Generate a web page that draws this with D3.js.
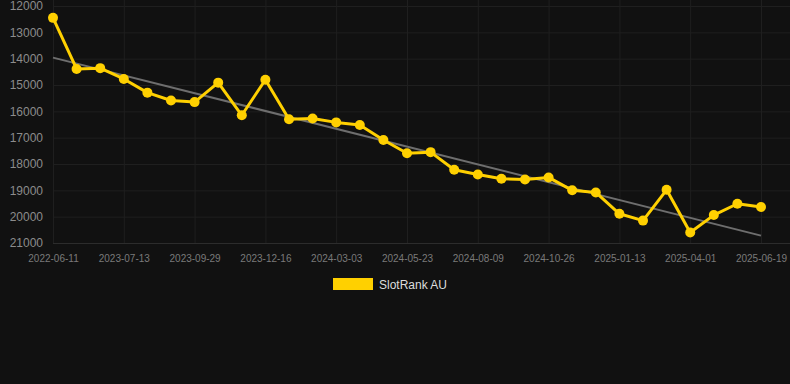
<html>
<meta charset="utf-8">
<script src="https://d3js.org/d3.v7.min.js"></script>
<style>
  body { margin: 0; background: #111111; }
  svg { display: block; }
</style>
<body>
<script>
// category dates (only every third one is labelled)
const dates = [
  "2022-06-11", "2023-05-22", "2023-06-17", "2023-07-13", "2023-08-08", "2023-09-03",
  "2023-09-29", "2023-10-25", "2023-11-20", "2023-12-16", "2024-01-11", "2024-02-06",
  "2024-03-03", "2024-03-30", "2024-04-26", "2024-05-23", "2024-06-18", "2024-07-14",
  "2024-08-09", "2024-09-04", "2024-09-30", "2024-10-26", "2024-11-21", "2024-12-18",
  "2025-01-13", "2025-02-08", "2025-03-06", "2025-04-01", "2025-04-27", "2025-05-24",
  "2025-06-19"
];
const ranks = [
  12450, 14390, 14360, 14770, 15290, 15590, 15650, 14910, 16150, 14800, 16300,
  16270, 16420, 16520, 17090, 17590, 17550, 18220, 18400, 18560, 18590, 18510,
  19000, 19080, 19890, 20150, 18980, 20600, 19940, 19510, 19630
];
const trend = [13960, 20720]; // start / end of the trend line
const yTicks = [12000, 13000, 14000, 15000, 16000, 17000, 18000, 19000, 20000, 21000];
const seriesName = "SlotRank AU";

const W = 790, H = 384;
const plotL = 53, plotR = 761, plotT = 6, plotB = 243;

const svg = d3.select('body').append('svg')
  .attr('width', W).attr('height', H);

const x = d3.scalePoint().domain(dates).range([plotL, plotR]);
const y = d3.scaleLinear().domain([12000, 21000]).range([plotT, plotB]);

const labelled = dates.filter((d, i) => i % 3 === 0);

// grid
svg.append('g').selectAll('line').data(yTicks).enter().append('line')
  .attr('x1', plotL).attr('x2', W)
  .attr('y1', d => y(d) + 0.5).attr('y2', d => y(d) + 0.5)
  .attr('stroke', d => d === 21000 ? '#2c2c2c' : '#1f1f1f').attr('stroke-width', 1);

svg.append('g').selectAll('line').data(labelled).enter().append('line')
  .attr('x1', d => x(d) + 0.5).attr('x2', d => x(d) + 0.5)
  .attr('y1', 0).attr('y2', plotB)
  .attr('stroke', '#1f1f1f').attr('stroke-width', 1);

// y axis
const yAxis = svg.append('g')
  .attr('transform', `translate(${plotL - 10},0)`)
  .call(d3.axisLeft(y).tickValues(yTicks).tickSize(0).tickPadding(0).tickFormat(d3.format('d')));
yAxis.select('.domain').remove();
yAxis.selectAll('text')
  .attr('fill', '#8c8c8c')
  .style('font-family', 'Liberation Sans, Arial, sans-serif')
  .style('font-size', '12px');

// x axis
const xAxis = svg.append('g')
  .attr('transform', `translate(0,${plotB})`)
  .call(d3.axisBottom(x).tickValues(labelled).tickSize(0).tickPadding(12));
xAxis.select('.domain').remove();
xAxis.selectAll('text')
  .attr('fill', '#7a7a7a')
  .style('font-family', 'Liberation Sans, Arial, sans-serif')
  .style('font-size', '10px');

// trend line
svg.append('line')
  .attr('x1', x(dates[0])).attr('y1', y(trend[0]))
  .attr('x2', x(dates[dates.length - 1])).attr('y2', y(trend[1]))
  .attr('stroke', '#6e6e6e').attr('stroke-width', 2);

// series
const pts = dates.map((d, i) => ({ date: d, value: ranks[i] }));
svg.append('path').datum(pts)
  .attr('fill', 'none')
  .attr('stroke', '#ffd000')
  .attr('stroke-width', 3)
  .attr('stroke-linejoin', 'round')
  .attr('d', d3.line().x(d => x(d.date)).y(d => y(d.value)));

svg.append('g').selectAll('circle').data(pts).enter().append('circle')
  .attr('cx', d => x(d.date)).attr('cy', d => y(d.value))
  .attr('r', 5)
  .attr('fill', '#ffd000');

// legend
const legend = svg.append('g').attr('transform', 'translate(333,278)');
legend.append('rect').attr('width', 40).attr('height', 12).attr('fill', '#ffd000');
legend.append('text')
  .attr('x', 46).attr('y', 10.5)
  .attr('fill', '#dddddd')
  .style('font-family', 'Liberation Sans, Arial, sans-serif')
  .style('font-size', '12px')
  .text(seriesName);
</script>
</body>
</html>
